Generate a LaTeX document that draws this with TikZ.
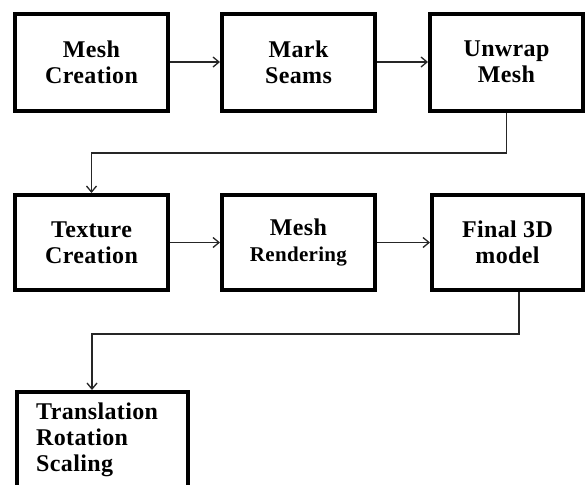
\documentclass[tikz,border=0pt]{standalone}
\usepackage{fontspec}
\setmainfont{Liberation Serif}[LetterSpace=1.5]
\usetikzlibrary{arrows.meta,calc}
\tikzset{
  stepbox/.style={draw=black, line width=4pt, fill=white, minimum width=153pt, minimum height=97pt,
    inner sep=0pt, align=center, font=\fontsize{24pt}{26pt}\selectfont\bfseries},
  arr/.style={draw=black!85, line width=1.3pt, -{Straight Barb[length=6pt,width=10pt,line width=1.3pt]}},
  txt/.style={inner sep=0pt, align=left, font=\fontsize{24pt}{26pt}\selectfont\bfseries}
}
\begin{document}
\begin{tikzpicture}[x=1pt,y=-1pt]
\useasboundingbox (0,0) rectangle (587,485);
\fill[white] (0,0) rectangle (587,485);
\begin{scope}
\clip (0,0) rectangle (587,485);
% row 1
\node[stepbox] (b1) at (91.5,62) {Mesh\\Creation};
\node[stepbox] (b2) at (298.5,62) {Mark\\Seams};
\node[stepbox] (b3) at (506.5,62) {Unwrap\\Mesh};
% row 2
\node[stepbox, minimum height=95pt] (b4) at (91.5,242.5) {Texture\\Creation};
\node[stepbox, minimum height=95pt] (b5) at (298.5,242.5) {Mesh\\{\fontsize{21pt}{26pt}\selectfont Rendering}};
\node[stepbox, minimum height=95pt, minimum width=151pt] (b6) at (507.5,242.5) {Final 3D\\model};
% row 3
\node[stepbox, minimum width=171pt, minimum height=130pt, anchor=north west] (b7) at (15,390) {};
\node[txt, anchor=north west] (t7) at (36,403) {Translation\\Rotation\\Scaling};
% connectors
\draw[arr] (b1) -- (b2);
\draw[arr] (b2) -- (b3);
\draw[arr] (b4) -- (b5);
\draw[arr] (b5) -- (b6);
\coordinate (c1) at (0,153);
\coordinate (c2) at (0,334);
\draw[arr] (b3.south) |- (c1 -| b4.north) -- (b4.north);
\coordinate (s6) at ([xshift=11.5pt]b6.south);
\coordinate (n7) at ([xshift=77pt]b7.north west);
\draw[arr] (s6) |- (c2 -| n7) -- (n7);
\end{scope}
\end{tikzpicture}
\end{document}
